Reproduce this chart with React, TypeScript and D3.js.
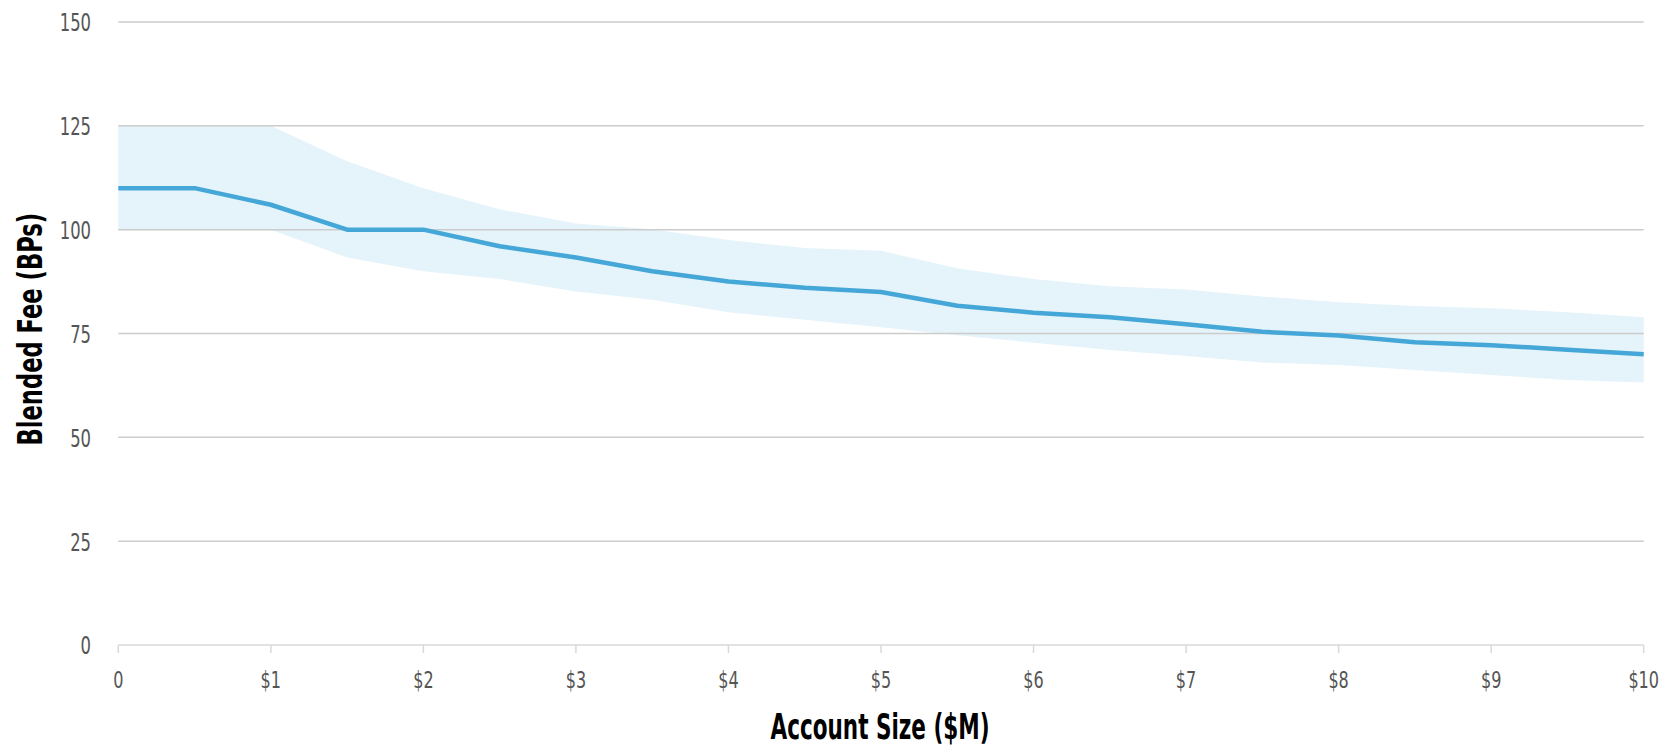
import React from "react";
import * as d3 from "d3";

const accountSizes = [0, 0.5, 1, 1.5, 2, 2.5, 3, 3.5, 4, 4.5, 5, 5.5, 6, 6.5, 7, 7.5, 8, 8.5, 9, 9.5, 10];
const blendedFee = [110, 110, 106, 100, 100, 96, 93.3, 90, 87.5, 86, 85, 81.7, 80, 78.9, 77.2, 75.4, 74.5, 72.9, 72.2, 71.1, 70];
const upperFee = [125, 125, 125, 116.5, 110, 104.9, 101.5, 100.1, 97.5, 95.6, 94.9, 90.7, 88.1, 86.4, 85.6, 83.9, 82.5, 81.6, 81.1, 80.1, 78.9];
const lowerFee = [100, 100, 100, 93.3, 90, 88.1, 85.1, 83.1, 80.1, 78.3, 76.5, 74.6, 72.8, 71.0, 69.6, 68.0, 67.4, 66.2, 65.0, 63.8, 63.2];
const yTicks = [0, 25, 50, 75, 100, 125, 150];
const xTicks = [0, 1, 2, 3, 4, 5, 6, 7, 8, 9, 10];
const xTickLabels = ["0", "$1", "$2", "$3", "$4", "$5", "$6", "$7", "$8", "$9", "$10"];

const W = 1673;
const H = 747;
const FONT = "'DejaVu Sans Condensed', 'DejaVu Sans', sans-serif";

export default function App() {
  const x = d3.scaleLinear().domain([0, 10]).range([118.3, 1643.7]);
  const y = d3.scaleLinear().domain([0, 150]).range([645, 22]);

  const rows = accountSizes.map((s, i) => ({ s, v: blendedFee[i], hi: upperFee[i], lo: lowerFee[i] }));
  const area = d3
    .area<any>()
    .x((d) => x(d.s))
    .y0((d) => y(d.lo))
    .y1((d) => y(d.hi));
  const line = d3
    .line<any>()
    .x((d) => x(d.s))
    .y((d) => y(d.v));

  return (
    <svg
      width={W}
      height={H}
      style={{ position: "absolute", left: 0, top: 0, background: "#fff" }}
      fontFamily={FONT}
    >
      <path d={area(rows) || ""} fill="#e5f4fa" />
      {yTicks.map((t) =>
        t === 0 ? null : (
          <line key={t} x1={x(0)} x2={x(10)} y1={y(t)} y2={y(t)} stroke="#cccccc" strokeWidth={1.5} />
        )
      )}
      <line x1={x(0)} x2={x(10)} y1={y(0)} y2={y(0)} stroke="#d9d9d9" strokeWidth={1.5} />
      {xTicks.map((t) => (
        <line key={t} x1={x(t)} x2={x(t)} y1={y(0)} y2={y(0) + 8} stroke="#d9d9d9" strokeWidth={1.5} />
      ))}
      <path d={line(rows) || ""} fill="none" stroke="#45a7d7" strokeWidth={4.5} strokeLinejoin="round" />
      {yTicks.map((t) => (
        <text
          key={t}
          transform={`translate(91, ${y(t) + 0.8}) scale(0.76, 1)`}
          dy="0.36em"
          textAnchor="end"
          fontSize={24}
          fill="#555555"
        >
          {t}
        </text>
      ))}
      {xTicks.map((t, i) => (
        <text
          key={t}
          transform={`translate(${x(t)}, 680) scale(0.76, 1)`}
          dy="0.36em"
          textAnchor="middle"
          fontSize={23.5}
          fill="#555555"
        >
          {xTickLabels[i]}
        </text>
      ))}
      <text
        transform={`translate(${x(5) - 1}, 739) scale(0.684, 1)`}
        textAnchor="middle"
        fontSize={35}
        fontWeight="bold"
        fill="#000"
      >
        Account Size ($M)
      </text>
      <text
        transform={`translate(42, ${(211.7 + 446.7) / 2}) rotate(-90) scale(0.74, 1)`}
        textAnchor="middle"
        fontSize={34}
        fontWeight="bold"
        fill="#000"
      >
        Blended Fee (BPs)
      </text>
    </svg>
  );
}
